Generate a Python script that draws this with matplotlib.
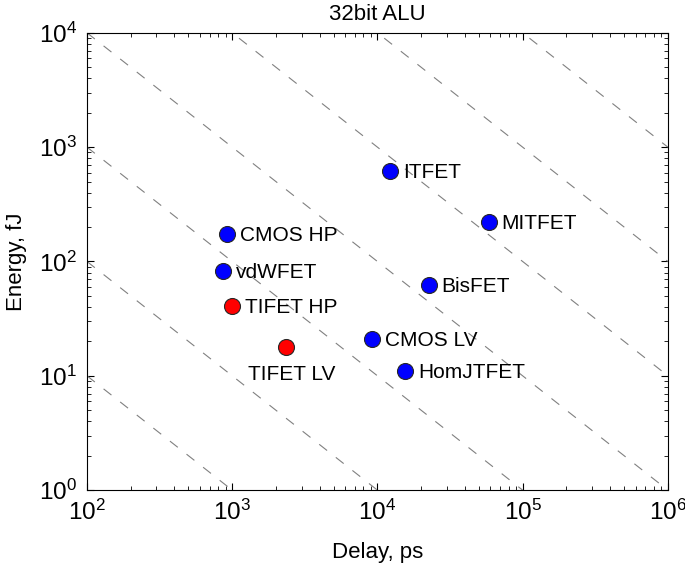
import numpy as np
import matplotlib
matplotlib.use("Agg")
import matplotlib.pyplot as plt
from matplotlib.ticker import LogLocator, NullFormatter

plt.rcParams['font.family'] = ['Liberation Sans', 'DejaVu Sans']
plt.rcParams['mathtext.default'] = 'regular'

# devices: delay (ps), energy (fJ)
names = ["ITFET", "MITFET", "CMOS HP", "vdWFET", "BisFET",
         "TIFET HP", "TIFET LV", "CMOS LV", "HomJTFET"]
delay = [12300, 58300, 924, 867, 22500, 1000, 2360, 9240, 15600]
energy = [615, 221, 174, 82.6, 62.4, 40.9, 18.0, 21.1, 11.1]
colors = ["blue", "blue", "blue", "blue", "blue", "red", "red", "blue", "blue"]

# constant energy-delay product lines (fJ*ps)
edp_levels = [1e3, 1e4, 1e5, 1e6, 1e7, 1e8, 1e9]

fig = plt.figure(figsize=(6.85, 5.66), dpi=100)
ax = fig.add_axes([0.127, 0.134, 0.848, 0.808])

xx = np.logspace(2, 6, 200)
for edp in edp_levels:
    ax.plot(xx, edp / xx, color="0.5", lw=0.8, dashes=(9, 10))

for d, e, c in zip(delay, energy, colors):
    ax.plot(d, e, "o", ms=11.5, mfc=c, mec="0.15", mew=0.8)

for n, d, e in zip(names, delay, energy):
    if n == "TIFET LV":
        ax.annotate(n, (d, e), xytext=(4, -20), textcoords="offset points",
                    ha="center", va="center", fontsize=15)
    else:
        ax.annotate(n, (d, e), xytext=(9, -1), textcoords="offset points",
                    ha="left", va="center", fontsize=15)

ax.set_xscale("log")
ax.set_yscale("log")
ax.set_xlim(1e2, 1e6)
ax.set_ylim(1e0, 1e4)
ax.xaxis.set_major_locator(LogLocator(base=10, numticks=10))
ax.yaxis.set_major_locator(LogLocator(base=10, numticks=10))
ax.xaxis.set_minor_locator(LogLocator(base=10, subs=np.arange(2, 10), numticks=20))
ax.yaxis.set_minor_locator(LogLocator(base=10, subs=np.arange(2, 10), numticks=20))
ax.xaxis.set_minor_formatter(NullFormatter())
ax.yaxis.set_minor_formatter(NullFormatter())
ax.tick_params(which="both", direction="in", top=True, right=True, labelsize=17.5)
ax.tick_params(which="major", length=5, width=0.8)
ax.tick_params(which="minor", length=3, width=0.6)
ax.tick_params(axis="x", pad=7)
ax.tick_params(axis="y", pad=7)
for s in ax.spines.values():
    s.set_linewidth(0.8)

ax.set_xlabel("Delay, ps", fontsize=16, labelpad=12)
ax.set_ylabel("Energy, fJ", fontsize=16, labelpad=9)
ax.set_title("32bit ALU", fontsize=16, pad=9)

fig.savefig("out.png", dpi=100)
